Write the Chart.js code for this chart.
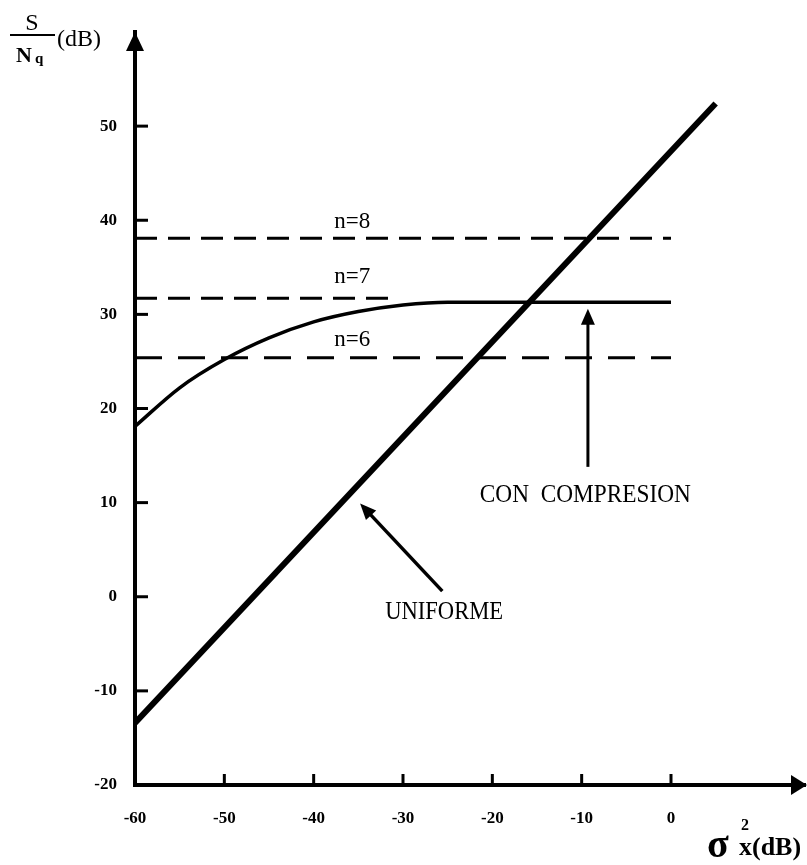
<!DOCTYPE html>
<html>
<head>
<meta charset="utf-8">
<script src="https://cdn.jsdelivr.net/npm/chart.js@4.4.1/dist/chart.umd.min.js"></script>
<style>
  html, body { margin: 0; padding: 0; background: #fff; }
  #wrap { width: 807px; height: 865px; }
</style>
</head>
<body>
<div id="wrap"><canvas id="myChart" width="807" height="865"></canvas></div>
<script>
// axis ticks (dB)
const xTicks = [-60, -50, -40, -30, -20, -10, 0];
const yTicks = [-20, -10, 0, 10, 20, 30, 40, 50];

// uniform quantizer: straight line
const uniformX = [-60, 5];
const uniformY = [-13.4, 52.4];

// compressed quantizer curve
const compX = [-60, -55, -50, -45, -40, -35, -30, -25, -20, -10, 0];
const compY = [18.1, 22.2, 25.2, 27.5, 29.2, 30.3, 31.0, 31.3, 31.3, 31.3, 31.3];

// dashed reference levels for n bits
const nNames = ['n=8', 'n=7', 'n=6'];
const nLevels = [38.1, 31.7, 25.4];
const nEnds = [0, -31.5, 0];
const nDash = [[22, 11], [22, 11], [27, 16]];

const SERIF = "'Liberation Serif', 'DejaVu Serif', serif";

function pts(xs, ys) {
  return xs.map((x, i) => ({ x: x, y: ys[i] }));
}

const datasets = [
  {
    label: 'uniforme',
    data: pts(uniformX, uniformY),
    borderColor: '#000',
    borderWidth: 6,
    pointRadius: 0,
  },
  {
    label: 'con compresion',
    data: pts(compX, compY),
    borderColor: '#000',
    borderWidth: 3.5,
    pointRadius: 0,
    cubicInterpolationMode: 'monotone',
  },
];

nNames.forEach((name, i) => {
  datasets.push({
    label: name,
    data: [{ x: -60, y: nLevels[i] }, { x: nEnds[i], y: nLevels[i] }],
    borderColor: '#000',
    borderWidth: 3,
    borderDash: nDash[i],
    pointRadius: 0,
  });
});

// text + arrows drawn on top of the chart
const extras = {
  id: 'extras',
  afterDraw(chart) {
    const ctx = chart.ctx;
    const xs = chart.scales.x;
    const ys = chart.scales.y;
    const area = chart.chartArea;
    const px = (v) => xs.getPixelForValue(v);
    const py = (v) => ys.getPixelForValue(v);

    ctx.save();
    ctx.fillStyle = '#000';
    ctx.strokeStyle = '#000';

    // tick marks pointing inward
    ctx.lineWidth = 3;
    yTicks.forEach((v) => {
      if (v === -20) return;
      ctx.beginPath();
      ctx.moveTo(area.left, py(v));
      ctx.lineTo(area.left + 13, py(v));
      ctx.stroke();
    });
    xTicks.forEach((v) => {
      if (v === -60) return;
      ctx.beginPath();
      ctx.moveTo(px(v), area.bottom);
      ctx.lineTo(px(v), area.bottom - 11);
      ctx.stroke();
    });

    // axis arrowheads
    ctx.beginPath();
    ctx.moveTo(area.left, area.top);
    ctx.lineTo(area.left - 9, area.top + 19);
    ctx.lineTo(area.left + 9, area.top + 19);
    ctx.closePath();
    ctx.fill();

    ctx.beginPath();
    ctx.moveTo(area.right + 2, area.bottom);
    ctx.lineTo(area.right - 14, area.bottom - 10);
    ctx.lineTo(area.right - 14, area.bottom + 10);
    ctx.closePath();
    ctx.fill();

    // n labels
    ctx.textBaseline = 'middle';
    ctx.textAlign = 'left';
    ctx.font = '23px ' + SERIF;
    const nLabelY = [39.8, 34.0, 27.3];
    nNames.forEach((name, i) => {
      ctx.fillText(name, px(-37.7), py(nLabelY[i]), 47);
    });

    // pointer arrows
    function pointer(x0, y0, x1, y1, w) {
      const a = Math.atan2(y1 - y0, x1 - x0);
      const head = 16;
      ctx.lineWidth = w;
      ctx.beginPath();
      ctx.moveTo(x0, y0);
      ctx.lineTo(x1 - Math.cos(a) * head * 0.8, y1 - Math.sin(a) * head * 0.8);
      ctx.stroke();
      ctx.beginPath();
      ctx.moveTo(x1, y1);
      ctx.lineTo(x1 - Math.cos(a) * head + Math.sin(a) * 7, y1 - Math.sin(a) * head - Math.cos(a) * 7);
      ctx.lineTo(x1 - Math.cos(a) * head - Math.sin(a) * 7, y1 - Math.sin(a) * head + Math.cos(a) * 7);
      ctx.closePath();
      ctx.fill();
    }
    pointer(px(-9.3), py(13.8), px(-9.3), py(30.6), 3);
    pointer(px(-25.6), py(0.6), px(-34.8), py(9.9), 3.5);

    ctx.font = '25px ' + SERIF;
    ctx.fillText('CON  COMPRESION', px(-21.4), py(10.8), 211);
    ctx.fillText('UNIFORME', px(-32.0), py(-1.7), 118);

    // y axis title: S / Nq (dB)
    ctx.textAlign = 'center';
    ctx.textBaseline = 'alphabetic';
    ctx.font = '24px ' + SERIF;
    ctx.fillText('S', 32, 30);
    ctx.lineWidth = 2;
    ctx.beginPath();
    ctx.moveTo(10, 35);
    ctx.lineTo(55, 35);
    ctx.stroke();
    ctx.textAlign = 'left';
    ctx.font = 'bold 22px ' + SERIF;
    ctx.fillText('N', 16, 62);
    ctx.font = 'bold 15px ' + SERIF;
    ctx.fillText('q', 35, 63);
    ctx.font = '24px ' + SERIF;
    ctx.fillText('(dB)', 57, 46, 52);

    // x axis title: sigma^2 x (dB)
    ctx.font = 'bold 40px ' + SERIF;
    ctx.fillText('σ', 707, 857, 22);
    ctx.font = 'bold 16px ' + SERIF;
    ctx.fillText('2', 741, 830);
    ctx.font = 'bold 26px ' + SERIF;
    ctx.fillText('x(dB)', 739, 855, 67);

    ctx.restore();
  },
};

const tickFont = { family: SERIF, size: 17, weight: 'bold' };

const config = {
  type: 'line',
  data: { datasets: datasets },
  options: {
    responsive: false,
    animation: false,
    devicePixelRatio: 1,
    layout: { padding: { top: 32, right: 2, left: 0, bottom: 0 } },
    plugins: {
      legend: { display: false },
      tooltip: { enabled: false },
    },
    scales: {
      x: {
        type: 'linear',
        min: -60,
        max: 15,
        afterBuildTicks: (s) => { s.ticks = xTicks.map((v) => ({ value: v })); },
        afterFit: (s) => { s.height = 80; },
        grid: { display: false },
        border: { display: true, width: 4, color: '#000' },
        ticks: { color: '#000', font: tickFont, padding: 15, autoSkip: false, maxRotation: 0 },
      },
      y: {
        type: 'linear',
        min: -20,
        max: 60,
        afterBuildTicks: (s) => { s.ticks = yTicks.map((v) => ({ value: v })); },
        afterFit: (s) => { s.width = 135; },
        grid: { display: false },
        border: { display: true, width: 4, color: '#000' },
        ticks: { color: '#000', font: tickFont, padding: 10, autoSkip: false },
      },
    },
  },
  plugins: [extras],
};

const myChart = new Chart(document.getElementById('myChart'), config);
</script>
</body>
</html>
